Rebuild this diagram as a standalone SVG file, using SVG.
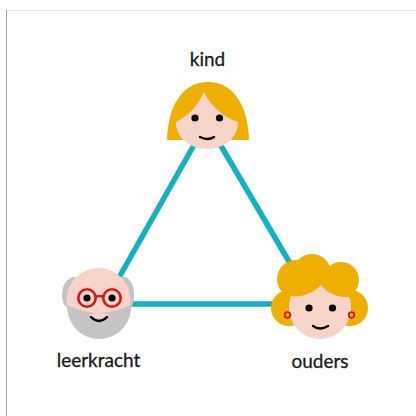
<svg xmlns="http://www.w3.org/2000/svg" width="416" height="416" viewBox="0 0 416 416">
<style>
text{font-family:"Lato","Noto Sans",sans-serif;font-size:19px;fill:#1a1a1a;stroke:#1a1a1a;stroke-width:.3;text-anchor:middle}
.skin{fill:#f6d5c8}.hair{fill:#eeaf00}.grey{fill:#c4c4c4}.eye{fill:#000}
.smile{fill:none;stroke:#000;stroke-width:2.400;stroke-linecap:round}
.glass{fill:none;stroke:#d8141c;stroke-width:2.600}
.ear{fill:#eeaf00;stroke:#d8141c;stroke-width:1.800}
.fr{fill:#eab9a8}
</style>
<rect width="416" height="416" fill="#fff"/>
<path d="M6.500 10.500H416" stroke="#e2e2e2" fill="none"/>
<path d="M6.500 10V416" stroke="#a8a8a8" fill="none"/>
<g id="connectors" fill="none" stroke="#14b1c0" stroke-width="5.500">
<path d="M207 122L104 304M207 122L314 304M104 304H314"/>
</g>
<g id="kind">
<path class="hair" d="M167 140C168 105 183 82 208 82C233 82 248 105 249 140Z"/>
<path class="skin" d="M176 122C188 116 198 106 204 92C210 106 225 118 238 122C238 138 224 149 207 149C190 149 176 138 176 122Z"/>
<circle class="eye" cx="195" cy="118" r="3.600"/><circle class="eye" cx="219.500" cy="118" r="3.600"/>
<path class="smile" d="M200 137Q208 141 214 137"/>
<circle class="fr" cx="187" cy="127" r=".6"/><circle class="fr" cx="191" cy="129" r=".6"/><circle class="fr" cx="222" cy="127" r=".6"/><circle class="fr" cx="226" cy="129" r=".6"/>
<text x="207.500" y="66">kind</text>
</g>
<g id="leerkracht">
<path class="grey" d="M72 277C64 281 62 288 62 296C62 303 65 307 70 309L128 309C133 307 134 302 134 295C134 287 132 281 126 277Z"/>
<circle class="skin" cx="98.500" cy="300" r="32"/>
<path class="grey" d="M67 305C78 310 88 313 98 313C110 313 122 309 131 305C132 325 116 339 99 339C82 339 67 325 67 305Z"/>
<path class="skin" d="M88 315Q99 311 110 315Q99 322 88 315Z"/>
<circle class="glass" cx="87" cy="298" r="8.700"/><circle class="glass" cx="112" cy="298" r="8.700"/>
<path class="glass" d="M95.500 297Q99.500 295 103.500 297"/>
<circle class="eye" cx="87" cy="298" r="3.600"/><circle class="eye" cx="112" cy="298" r="3.600"/>
<path class="smile" d="M91 317Q99 325 107 317"/>
<text x="98.500" y="367">leerkracht</text>
</g>
<g id="ouders">
<circle class="hair" cx="289" cy="308" r="18"/><circle class="hair" cx="350" cy="308" r="18"/>
<circle class="hair" cx="296" cy="279" r="19"/><circle class="hair" cx="312" cy="273" r="19"/><circle class="hair" cx="341" cy="280" r="18"/>
<path class="hair" d="M296 270H345V300H296Z"/>
<path class="skin" d="M291 296C300 298 312 294 321 285C327 293 338 298 349 297C351 300 351 304 351 308C351 325 337 339 320 339C303 339 289 325 289 308C289 304 290 300 291 296Z"/>
<circle class="eye" cx="309" cy="308" r="3.600"/><circle class="eye" cx="332.500" cy="308" r="3.600"/>
<path class="smile" d="M313 326Q320 331 328 326"/>
<circle class="ear" cx="287.500" cy="315" r="2.800"/><circle class="ear" cx="351.500" cy="315" r="2.800"/>
<text x="320" y="368">ouders</text>
</g>
</svg>
